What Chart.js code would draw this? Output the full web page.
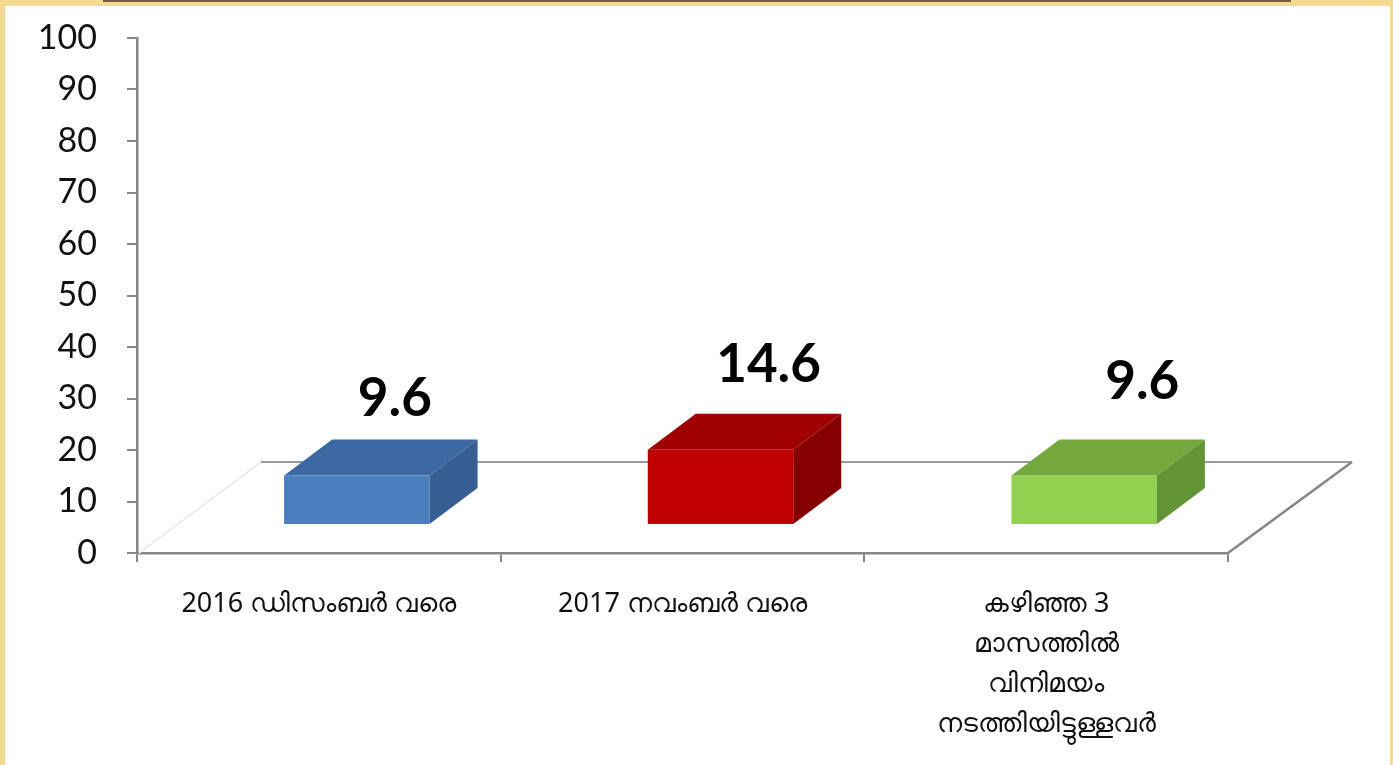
<!DOCTYPE html>
<html>
<head>
<meta charset="utf-8">
<script src="https://cdn.jsdelivr.net/npm/chart.js@4.4.1/dist/chart.umd.min.js"></script>
<style>
  html, body { margin:0; padding:0; background:#F5DA93; width:1393px; height:765px; overflow:hidden; }
  #paper { position:absolute; left:5px; top:6px; width:1385px; height:759px; background:#ffffff; }
  #rule { position:absolute; left:103px; top:0; width:1188px; height:2px; background:#7A5A48; }
  #wrap { position:absolute; left:0; top:0; width:1393px; height:765px; }
</style>
</head>
<body>
<div id="paper"></div>
<div id="rule"></div>
<div id="wrap"><canvas id="c" width="1393" height="765"></canvas></div>
<script>
// ---- data ----
const categories = [
  '2016 ഡിസംബർ വരെ',
  '2017 നവംബർ വരെ',
  ['കഴിഞ്ഞ 3', 'മാസത്തിൽ', 'വിനിമയം', 'നടത്തിയിട്ടുള്ളവർ']
];
const values = [9.6, 14.6, 9.6];
const yMin = 0;
const yMax = 100;
const yStep = 10;

// ---- styles ----
const frontColors = ['#4A7EBF', '#C00000', '#92D050'];
const topColors   = ['#3D69A3', '#A00000', '#72A83E'];
const sideColors  = ['#365E90', '#870000', '#619535'];
const axisColor = '#868686';

const FLOOR_DX = 124, FLOOR_DY = 91;
const BOX_DX = 48, BOX_DY = 36;
const SHIFT_X = 38, LIFT_Y = 28;

const box3d = {
  id: 'box3d',
  beforeDatasetsDraw(chart) {
    const ctx = chart.ctx;
    const area = chart.chartArea;
    const y0 = chart.scales.y.getPixelForValue(yMin);
    ctx.save();
    ctx.strokeStyle = '#ececec';
    ctx.lineWidth = 2;
    ctx.beginPath();
    ctx.moveTo(area.left + 2, y0);
    ctx.lineTo(area.left + FLOOR_DX, y0 - FLOOR_DY);
    ctx.stroke();
    ctx.strokeStyle = '#9a9a9a';
    ctx.lineWidth = 2;
    ctx.beginPath();
    ctx.moveTo(area.left + FLOOR_DX, y0 - FLOOR_DY);
    ctx.lineTo(area.right + FLOOR_DX, y0 - FLOOR_DY);
    ctx.stroke();
    ctx.strokeStyle = axisColor;
    ctx.lineWidth = 2.5;
    ctx.beginPath();
    ctx.moveTo(area.right, y0);
    ctx.lineTo(area.right + FLOOR_DX, y0 - FLOOR_DY);
    ctx.stroke();
    ctx.restore();
  },
  beforeDatasetDraw() { return false; },
  afterDatasetsDraw(chart) {
    const ctx = chart.ctx;
    const area = chart.chartArea;
    const meta = chart.getDatasetMeta(0);
    ctx.save();
    meta.data.forEach((el, i) => {
      const p = el.getProps(['x', 'y', 'width', 'base'], true);
      const fl = p.x - p.width / 2 + SHIFT_X;
      const fr = p.x + p.width / 2 + SHIFT_X;
      const top = p.y - LIFT_Y;
      const bot = p.base - LIFT_Y;
      ctx.fillStyle = frontColors[i];
      ctx.fillRect(fl, top, fr - fl, bot - top);
      ctx.fillStyle = topColors[i];
      ctx.beginPath();
      ctx.moveTo(fl, top);
      ctx.lineTo(fl + BOX_DX, top - BOX_DY);
      ctx.lineTo(fr + BOX_DX, top - BOX_DY);
      ctx.lineTo(fr, top);
      ctx.closePath();
      ctx.fill();
      ctx.fillStyle = sideColors[i];
      ctx.beginPath();
      ctx.moveTo(fr, top);
      ctx.lineTo(fr + BOX_DX, top - BOX_DY);
      ctx.lineTo(fr + BOX_DX, bot - BOX_DY);
      ctx.lineTo(fr, bot);
      ctx.closePath();
      ctx.fill();
      // value label (perspective drift grows toward the right)
      const cx = (fl + fr) / 2;
      const drift = (cx - area.left) / (area.right - area.left);
      ctx.fillStyle = '#000000';
      ctx.font = 'bold 53px Lato, "Open Sans", sans-serif';
      ctx.textAlign = 'center';
      ctx.textBaseline = 'alphabetic';
      ctx.fillText(values[i].toFixed(1), cx + 32 + drift * 30, top - BOX_DY - 18 - drift * 26);
    });
    ctx.restore();
  }
};

new Chart(document.getElementById('c'), {
  type: 'bar',
  data: {
    labels: categories,
    datasets: [{
      data: values,
      backgroundColor: frontColors,
      barPercentage: 0.4,
      categoryPercentage: 1.0
    }]
  },
  options: {
    responsive: false,
    animation: false,
    layout: { padding: { left: 0, right: 165, top: 38, bottom: 0 } },
    plugins: { legend: { display: false }, tooltip: { enabled: false } },
    scales: {
      x: {
        afterFit(scale) { scale.height = 212; },
        border: { display: true, color: axisColor, width: 2.5 },
        grid: { offset: true, drawOnChartArea: false, drawTicks: true, tickLength: 9, color: axisColor, lineWidth: 2 },
        ticks: {
          padding: 22,
          color: '#111111',
          maxRotation: 0,
          autoSkip: false,
          font: { family: '"Noto Sans", "DejaVu Sans", sans-serif', size: 27, lineHeight: 1.48 }
        }
      },
      y: {
        min: yMin,
        max: yMax,
        afterFit(scale) { scale.width = 137; scale.paddingTop = 0; scale.paddingBottom = 0; },
        border: { display: true, color: axisColor, width: 2.5 },
        grid: { drawOnChartArea: false, drawTicks: true, tickLength: 10, color: axisColor, lineWidth: 2 },
        ticks: {
          stepSize: yStep,
          padding: 30,
          color: '#111111',
          font: { family: 'Lato, "Open Sans", sans-serif', size: 34 }
        }
      }
    }
  },
  plugins: [box3d]
});
</script>
</body>
</html>
